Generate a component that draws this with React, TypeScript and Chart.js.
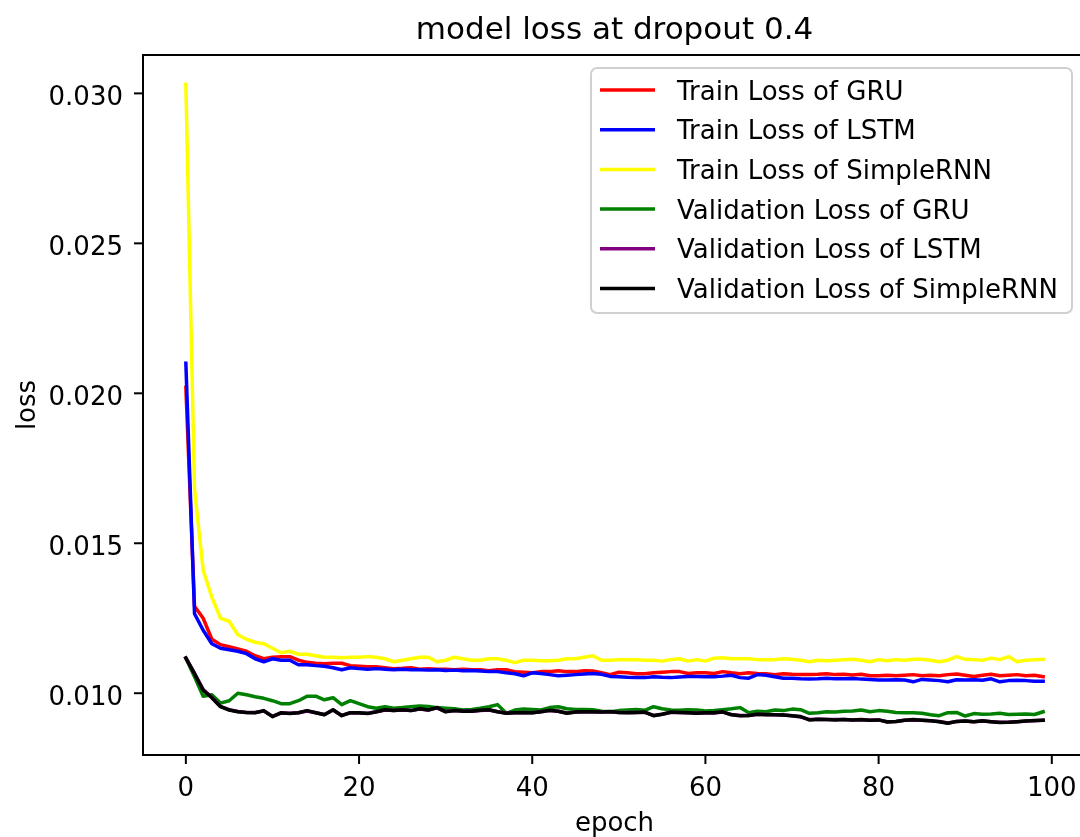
import React, { useEffect, useRef } from "react";
import { Chart, registerables } from "chart.js";

Chart.register(...registerables);

const TITLE = "model loss at dropout 0.4";
const X_LABEL = "epoch";
const Y_LABEL = "loss";

const xTicks = [0, 20, 40, 60, 80, 100];
const yTicks = [0.01, 0.015, 0.02, 0.025, 0.03];

const seriesNames = [
  "Train Loss of GRU",
  "Train Loss of LSTM",
  "Train Loss of SimpleRNN",
  "Validation Loss of GRU",
  "Validation Loss of LSTM",
  "Validation Loss of SimpleRNN",
];
const seriesColors = ["#ff0000", "#0000ff", "#ffff00", "#008000", "#800080", "#000000"];

const trainGRU = [
  0.0202, 0.0129, 0.0125, 0.0118, 0.01162, 0.01155, 0.01148, 0.0114, 0.01125, 0.01115,
  0.0112, 0.01122, 0.01122, 0.0111, 0.01103, 0.011, 0.01098, 0.011, 0.011, 0.01092,
  0.0109, 0.01088, 0.01088, 0.01085, 0.01082, 0.01083, 0.01085, 0.0108, 0.01082, 0.0108,
  0.0108, 0.01078, 0.0108, 0.01078, 0.01078, 0.01075, 0.01078, 0.01078, 0.01072, 0.0107,
  0.01068, 0.01072, 0.01072, 0.01075, 0.01072, 0.01072, 0.01075, 0.01074, 0.01068, 0.01062,
  0.0107, 0.01068, 0.01065, 0.01065, 0.01068, 0.0107, 0.01072, 0.01072, 0.01066, 0.01068,
  0.01068, 0.01066, 0.01072, 0.01068, 0.01065, 0.01068, 0.01066, 0.01065, 0.01062, 0.01065,
  0.01063, 0.01062, 0.01062, 0.01063, 0.01065, 0.01062, 0.01063, 0.01061, 0.01063, 0.01058,
  0.01058, 0.0106, 0.01058, 0.0106, 0.01062, 0.01058, 0.0106, 0.01058, 0.01062, 0.01064,
  0.0106, 0.01056, 0.0106, 0.01063, 0.01058, 0.0106, 0.01062, 0.01058, 0.0106, 0.01055,
];

const trainLSTM = [
  0.021, 0.01265, 0.0121, 0.01165, 0.0115, 0.01145, 0.0114, 0.01132, 0.01115, 0.01105,
  0.01115, 0.0111, 0.0111, 0.01095, 0.01095, 0.01092, 0.0109, 0.01085, 0.01078, 0.01085,
  0.01082, 0.0108, 0.01082, 0.0108, 0.01078, 0.0108, 0.01078, 0.01078, 0.01077, 0.01078,
  0.01076, 0.01077, 0.01075, 0.01076, 0.01074, 0.01072, 0.01072, 0.01068, 0.01065, 0.01058,
  0.01068, 0.01066, 0.01062, 0.01058, 0.0106, 0.01062, 0.01064, 0.01066, 0.01063, 0.01056,
  0.01055, 0.01053, 0.01052, 0.01052, 0.01055, 0.01053, 0.01052, 0.01054, 0.01056, 0.01056,
  0.01055, 0.01055, 0.01057, 0.0106, 0.01052, 0.0105, 0.01062, 0.0106, 0.01055, 0.0105,
  0.0105, 0.01048, 0.01047, 0.01048, 0.0105, 0.01048, 0.01048, 0.01049, 0.01047, 0.01046,
  0.01044, 0.01044, 0.01045, 0.01044, 0.01038, 0.01046, 0.01044, 0.01042, 0.01038, 0.01045,
  0.01044, 0.01045, 0.01043, 0.01048, 0.01038, 0.01042, 0.01043, 0.01042, 0.0104, 0.0104,
];

const trainSimpleRNN = [
  0.0303, 0.0168, 0.0141, 0.0132, 0.0125, 0.0124, 0.01195, 0.0118, 0.0117, 0.01165,
  0.0115, 0.01135, 0.0114, 0.0113, 0.0113, 0.01125, 0.0112, 0.0112, 0.01118, 0.0112,
  0.0112, 0.01122, 0.0112, 0.01115, 0.01105, 0.0111, 0.01115, 0.0112, 0.0112, 0.01105,
  0.0111, 0.0112, 0.01115, 0.0111, 0.0111, 0.01115, 0.01115, 0.0111, 0.01102, 0.0111,
  0.0111, 0.01108, 0.01108, 0.0111, 0.01115, 0.01115, 0.0112, 0.01125, 0.0111, 0.0111,
  0.01112, 0.01112, 0.01112, 0.0111, 0.0111, 0.01107, 0.01112, 0.01115, 0.01107, 0.01112,
  0.01107, 0.01117, 0.01118, 0.01115, 0.01115, 0.01115, 0.01112, 0.01112, 0.01112, 0.01115,
  0.01113, 0.0111, 0.01105, 0.0111, 0.01108, 0.0111, 0.01112, 0.01113, 0.0111, 0.01105,
  0.01112, 0.01108, 0.01112, 0.0111, 0.01113, 0.01113, 0.0111, 0.01105, 0.0111, 0.01122,
  0.01113, 0.01112, 0.0111, 0.01117, 0.01112, 0.01122, 0.01105, 0.0111, 0.01112, 0.01113,
];

const valGRU = [
  0.01117, 0.01055, 0.0099, 0.00995, 0.00967, 0.00975, 0.01, 0.00995, 0.00988, 0.00983,
  0.00975, 0.00965, 0.00965, 0.00975, 0.0099, 0.0099, 0.00978, 0.00985, 0.00962, 0.00975,
  0.00965, 0.00955, 0.0095, 0.00955, 0.0095, 0.00952, 0.00955, 0.00957, 0.00956, 0.00952,
  0.0095, 0.00948, 0.00944, 0.00946, 0.0095, 0.00955, 0.00962, 0.00933, 0.00944, 0.00947,
  0.00946, 0.00944, 0.00952, 0.00955, 0.00948, 0.00946, 0.00946, 0.00945, 0.0094, 0.00938,
  0.00942, 0.00944, 0.00946, 0.00943, 0.00955, 0.00948, 0.00944, 0.00943, 0.00945, 0.00944,
  0.00941, 0.00942, 0.00945, 0.00948, 0.00952, 0.00935, 0.0094, 0.00938, 0.00944, 0.00942,
  0.00947, 0.00945, 0.00933, 0.00935, 0.00938, 0.00937, 0.0094, 0.00941, 0.00944, 0.00938,
  0.00942, 0.0094, 0.00936, 0.00935, 0.00935, 0.00933, 0.00928, 0.00925, 0.00935, 0.00936,
  0.00924, 0.00932, 0.0093, 0.00931, 0.00933, 0.00929, 0.0093, 0.00931, 0.00929, 0.00938,
];

const valLSTM = [
  0.01118, 0.01066, 0.01012, 0.00986, 0.00956, 0.00945, 0.00939, 0.00936, 0.00936, 0.00941,
  0.00923, 0.00934, 0.00933, 0.00935, 0.00941, 0.00935, 0.00929, 0.00944, 0.00926, 0.00935,
  0.00934, 0.00933, 0.00938, 0.00944, 0.00942, 0.00944, 0.00942, 0.00947, 0.00944, 0.00951,
  0.00939, 0.00942, 0.00941, 0.0094, 0.00942, 0.00944, 0.00938, 0.00934, 0.00935, 0.00936,
  0.00935, 0.00938, 0.00942, 0.0094, 0.00934, 0.00937, 0.00938, 0.00937, 0.00937, 0.00938,
  0.00936, 0.00936, 0.00936, 0.00936, 0.00926, 0.0093, 0.00936, 0.00936, 0.00935, 0.00934,
  0.00935, 0.00934, 0.00937, 0.00929, 0.00926, 0.00926, 0.0093, 0.00929, 0.00928, 0.00927,
  0.00925, 0.00921, 0.00912, 0.00913, 0.00912, 0.00912, 0.00912, 0.00911, 0.00911, 0.0091,
  0.00911, 0.00905, 0.00906, 0.0091, 0.00911, 0.0091, 0.00908, 0.00906, 0.00901, 0.00906,
  0.00907, 0.00905, 0.00907, 0.00905, 0.00903, 0.00903, 0.00905, 0.00907, 0.00908, 0.0091,
];

const valSimpleRNN = [
  0.01117, 0.01065, 0.0101, 0.00985, 0.00955, 0.00944, 0.00938, 0.00936, 0.00935, 0.00942,
  0.00922, 0.00935, 0.00932, 0.00935, 0.00942, 0.00935, 0.00928, 0.00945, 0.00925, 0.00935,
  0.00935, 0.00932, 0.00938, 0.00945, 0.00942, 0.00945, 0.00942, 0.00948, 0.00944, 0.00952,
  0.00938, 0.00942, 0.0094, 0.0094, 0.00943, 0.00945, 0.00938, 0.00933, 0.00935, 0.00935,
  0.00935, 0.00938, 0.00943, 0.0094, 0.00933, 0.00937, 0.00938, 0.00938, 0.00937, 0.00939,
  0.00936, 0.00935, 0.00936, 0.00937, 0.00925, 0.0093, 0.00937, 0.00936, 0.00935, 0.00933,
  0.00935, 0.00935, 0.00938, 0.00928, 0.00925, 0.00926, 0.0093, 0.00928, 0.00928, 0.00927,
  0.00925, 0.00922, 0.00911, 0.00913, 0.00912, 0.00911, 0.00912, 0.00911, 0.00912, 0.0091,
  0.00911, 0.00904, 0.00906, 0.0091, 0.00912, 0.0091, 0.00908, 0.00905, 0.009, 0.00906,
  0.00907, 0.00905, 0.00908, 0.00905, 0.00902, 0.00903, 0.00905, 0.00907, 0.00909, 0.0091,
];

const allSeries = [trainGRU, trainLSTM, trainSimpleRNN, valGRU, valLSTM, valSimpleRNN];

const FONT = '"DejaVu Sans", sans-serif';

const decorPlugin = {
  id: "decor",
  afterDraw(chart: any) {
    const { ctx, chartArea: a } = chart;
    const xs = chart.scales.x;
    const ys = chart.scales.y;
    ctx.save();
    ctx.strokeStyle = "#000";
    ctx.lineWidth = 2;
    ctx.strokeRect(a.left, a.top, a.right - a.left, a.bottom - a.top);

    // tick marks and tick labels
    ctx.fillStyle = "#000";
    ctx.font = `26px ${FONT}`;
    ctx.textBaseline = "alphabetic";
    ctx.textAlign = "center";
    xTicks.forEach((v) => {
      const px = xs.getPixelForValue(v);
      ctx.beginPath();
      ctx.moveTo(px, a.bottom);
      ctx.lineTo(px, a.bottom + 9);
      ctx.stroke();
      ctx.fillText(String(v), px, a.bottom + 41);
    });
    ctx.textAlign = "right";
    yTicks.forEach((v) => {
      const py = ys.getPixelForValue(v);
      ctx.beginPath();
      ctx.moveTo(a.left - 9, py);
      ctx.lineTo(a.left, py);
      ctx.stroke();
      ctx.fillText(v.toFixed(3), a.left - 20, py + 12);
    });

    ctx.textAlign = "center";
    ctx.font = `31px ${FONT}`;
    ctx.fillText(TITLE, (a.left + a.right) / 2, 39);
    ctx.font = `26px ${FONT}`;
    ctx.fillText(X_LABEL, (a.left + a.right) / 2, 831);
    ctx.save();
    ctx.translate(35, (a.top + a.bottom) / 2);
    ctx.rotate(-Math.PI / 2);
    ctx.fillText(Y_LABEL, 0, 0);
    ctx.restore();

    // legend
    const bx = 591, by = 68, bw = 481, bh = 245;
    ctx.beginPath();
    (ctx as any).roundRect(bx, by, bw, bh, 6);
    ctx.fillStyle = "rgba(255,255,255,0.8)";
    ctx.fill();
    ctx.strokeStyle = "#d0d0d0";
    ctx.lineWidth = 2;
    ctx.stroke();
    ctx.textAlign = "left";
    ctx.font = `26px ${FONT}`;
    seriesNames.forEach((name, i) => {
      const ry = 90 + i * 39.7;
      ctx.beginPath();
      ctx.moveTo(600, ry);
      ctx.lineTo(655, ry);
      ctx.strokeStyle = seriesColors[i];
      ctx.lineWidth = 3.5;
      ctx.lineCap = "butt";
      ctx.stroke();
      ctx.fillStyle = "#000";
      ctx.fillText(name, 677, ry + 9.5);
    });
    ctx.restore();
  },
};

export default function App() {
  const ref = useRef<HTMLCanvasElement>(null);
  useEffect(() => {
    if (!ref.current) return;
    Chart.defaults.font.family = FONT;
    const datasets = allSeries.map((vals, i) => ({
      label: seriesNames[i],
      data: vals.map((v, idx) => ({ x: idx, y: v })),
      borderColor: seriesColors[i],
      backgroundColor: seriesColors[i],
      borderWidth: 3.5,
      pointRadius: 0,
      tension: 0,
      fill: false,
      borderJoinStyle: "round" as const,
      borderCapStyle: "square" as const,
      order: allSeries.length - 1 - i,
    }));
    const chart = new Chart(ref.current, {
      type: "line",
      data: { datasets },
      options: {
        animation: false,
        responsive: false,
        devicePixelRatio: 1,
        layout: { autoPadding: false, padding: { top: 55, right: 34, bottom: 0, left: 0 } },
        plugins: { legend: { display: false }, tooltip: { enabled: false }, title: { display: false } },
        scales: {
          x: {
            type: "linear",
            min: -4.95,
            max: 103.95,
            afterBuildTicks: (s: any) => {
              s.ticks = xTicks.map((v) => ({ value: v }));
            },
            afterFit: (s: any) => {
              s.height = 82;
              s.paddingLeft = 0;
              s.paddingRight = 0;
            },
            ticks: { display: false },
            grid: { display: false },
            border: { display: false },
          },
          y: {
            type: "linear",
            min: 0.00794,
            max: 0.03128,
            afterBuildTicks: (s: any) => {
              s.ticks = yTicks.map((v) => ({ value: v }));
            },
            afterFit: (s: any) => {
              s.width = 143;
              s.paddingTop = 0;
              s.paddingBottom = 0;
            },
            ticks: { display: false },
            grid: { display: false },
            border: { display: false },
          },
        },
      },
      plugins: [decorPlugin],
    });
    return () => chart.destroy();
  }, []);
  return (
    <div style={{ position: "fixed", left: 0, top: 0, width: 1080, height: 837, overflow: "hidden", background: "#fff" }}>
      <canvas ref={ref} width={1120} height={837} style={{ display: "block", width: 1120, height: 837 }} />
    </div>
  );
}
